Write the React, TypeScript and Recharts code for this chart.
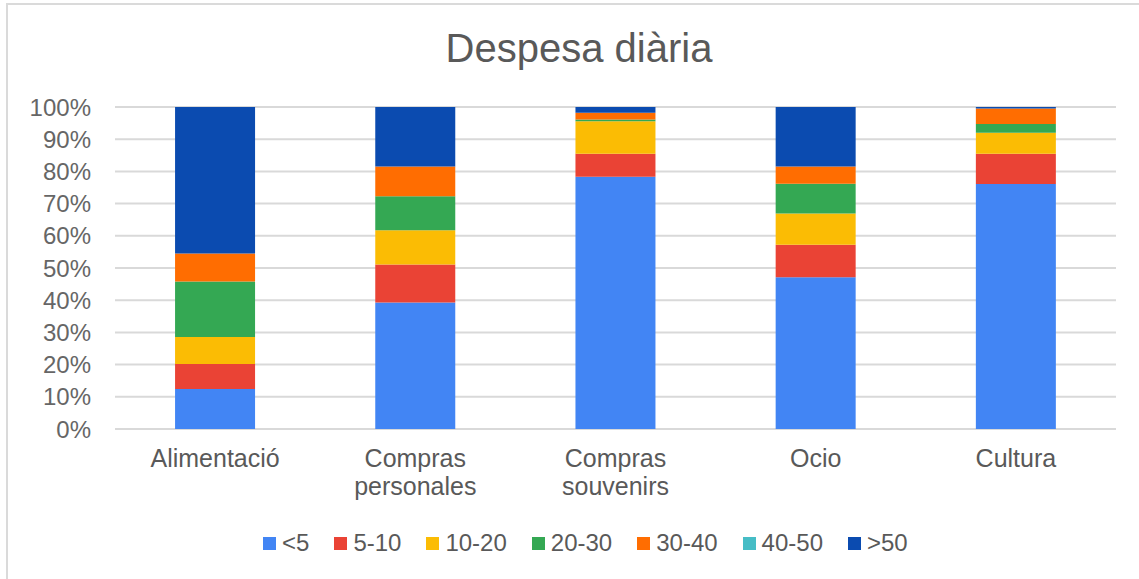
import React from 'react'
import {
  BarChart, Bar, XAxis, YAxis, CartesianGrid, Legend,
} from 'recharts'

const categories = ['Alimentació', 'Compras personales', 'Compras souvenirs', 'Ocio', 'Cultura']

// percentages per spending band, one entry per category
const lt5 = [12.4, 39.3, 78.3, 47.1, 76.1]
const s5to10 = [7.8, 11.8, 7.2, 10.1, 9.4]
const s10to20 = [8.4, 10.6, 10.1, 9.7, 6.5]
const s20to30 = [17.2, 10.6, 0.5, 9.3, 2.7]
const s30to40 = [8.7, 9.2, 2.1, 5.3, 4.8]
const s40to50 = [0, 0, 0, 0, 0]
const gt50 = [45.5, 18.5, 1.8, 18.5, 0.5]

const seriesNames = ['<5', '5-10', '10-20', '20-30', '30-40', '40-50', '>50']
const seriesValues = [lt5, s5to10, s10to20, s20to30, s30to40, s40to50, gt50]
const COLORS = ['#4285F4', '#EA4335', '#FBBC04', '#34A853', '#FF6D01', '#46BDC6', '#0B4BB0']
const yTicks = [0, 0.1, 0.2, 0.3, 0.4, 0.5, 0.6, 0.7, 0.8, 0.9, 1]

const data = categories.map((name, i) => {
  const row: Record<string, string | number> = { name }
  seriesNames.forEach((s, j) => { row[s] = seriesValues[j][i] })
  return row
})

const FONT = '"Liberation Sans", Arial, sans-serif'

const CategoryTick = (props: any) => {
  const { x, y, payload } = props
  const words = String(payload.value).split(' ')
  return (
    <text x={x} y={y} textAnchor="middle" fill="#595959" fontSize={25} fontFamily={FONT}>
      {words.map((w, i) => (
        <tspan key={i} x={x} dy={i === 0 ? 38 : 28}>{w}</tspan>
      ))}
    </text>
  )
}

const LegendContent = (props: any) => {
  const items = [...(props.payload || [])].sort(
    (a: any, b: any) => seriesNames.indexOf(a.value) - seriesNames.indexOf(b.value),
  )
  return (
    <div style={{ height: 44, display: 'flex', alignItems: 'center', paddingLeft: 263, fontFamily: FONT }}>
      {items.map((item: any) => (
        <div key={item.value} style={{ display: 'flex', alignItems: 'center', marginRight: 25 }}>
          <span style={{ width: 13, height: 13, background: item.color, display: 'inline-block', marginRight: 6 }} />
          <span style={{ fontSize: 24, color: '#595959' }}>{item.value}</span>
        </div>
      ))}
    </div>
  )
}

const App: React.FC = () => {
  return (
    <div style={{ position: 'absolute', left: 0, top: 0, width: 1139, height: 579, overflow: 'hidden', background: '#fff' }}>
      <div style={{ position: 'absolute', left: 6, top: 3, width: 1200, height: 700, border: '2px solid #dadada' }} />
      <div style={{
        position: 'absolute', left: 0, top: 28, width: 1158, textAlign: 'center',
        fontFamily: FONT, fontSize: 40, lineHeight: '40px', color: '#595959',
      }}>
        Despesa diària
      </div>
      <div style={{ position: 'absolute', left: 0, top: 0 }}>
        <BarChart
          width={1139}
          height={579}
          data={data}
          stackOffset="expand"
          barCategoryGap="30%"
          margin={{ top: 107, right: 23, bottom: 14, left: 0 }}
        >
          <CartesianGrid vertical={false} stroke="#d9d9d9" strokeWidth={2} />
          <XAxis
            dataKey="name"
            axisLine={false}
            tickLine={false}
            tickSize={0}
            tickMargin={0}
            height={92}
            interval={0}
            tick={<CategoryTick />}
          />
          <YAxis
            width={115}
            domain={[0, 1]}
            ticks={yTicks}
            axisLine={false}
            tickLine={false}
            tickSize={0}
            tickMargin={24}
            tickFormatter={(v: number) => `${Math.round(v * 100)}%`}
            tick={{ fill: '#666666', fontSize: 24, fontFamily: FONT }}
          />
          <Legend verticalAlign="bottom" content={<LegendContent />} />
          {seriesNames.map((s, j) => (
            <Bar key={s} dataKey={s} stackId="a" fill={COLORS[j]} isAnimationActive={false} />
          ))}
        </BarChart>
      </div>
    </div>
  )
}

export default App
